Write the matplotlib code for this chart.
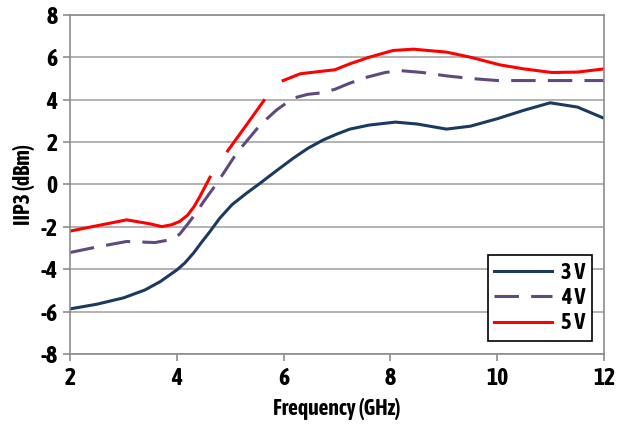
import matplotlib
matplotlib.use('Agg')
import matplotlib.pyplot as plt
import numpy as np
from matplotlib import font_manager

# want a narrow bold face; take one if any is installed
fam = 'DejaVu Sans'
for f in font_manager.fontManager.ttflist:
    if ('Narrow' in f.name or 'Condensed' in f.name) and f.weight in ('bold', 700):
        fam = f.name
        break
plt.rcParams['font.family'] = [fam, 'DejaVu Sans']
plt.rcParams['font.weight'] = 'bold'
plt.rcParams['axes.unicode_minus'] = False

# IIP3 vs frequency
freq_3v = [2.0, 2.5, 3.0, 3.4, 3.69, 4.0, 4.15, 4.31, 4.47, 4.62, 4.8, 5.03, 5.3, 5.56, 5.85,
           6.18, 6.45, 6.74, 7.0, 7.24, 7.6, 8.09, 8.5, 9.05, 9.5, 10.0, 10.5, 10.99, 11.5, 12.0]
iip3_3v = [-5.87, -5.65, -5.35, -4.98, -4.58, -4.03, -3.7, -3.24, -2.7, -2.22, -1.6, -0.96, -0.42,
           0.06, 0.62, 1.24, 1.7, 2.1, 2.38, 2.61, 2.8, 2.94, 2.85, 2.61, 2.75, 3.1, 3.5, 3.85,
           3.65, 3.12]

freq_4v = [2.0, 2.5, 3.06, 3.59, 3.87, 4.05, 4.19, 4.35, 4.5, 4.75, 5.12, 5.56, 5.87, 6.18,
           6.45, 6.74, 6.96, 7.24, 7.56, 7.9, 8.18, 8.6, 9.05, 9.5, 10.0, 10.5, 11.0, 11.5, 12.0]
iip3_4v = [-3.21, -2.95, -2.69, -2.74, -2.61, -2.35, -1.91, -1.38, -0.81, 0.06, 1.48, 2.81, 3.52,
           4.07, 4.25, 4.33, 4.49, 4.78, 5.06, 5.28, 5.37, 5.28, 5.12, 5.0, 4.9, 4.9, 4.9, 4.9,
           4.9]

freq_5v = [2.0, 2.5, 3.06, 3.5, 3.72, 3.9, 4.05, 4.2, 4.32, 4.43, 4.62, 4.78, 4.95, 5.3, 5.63,
           5.8, 5.99, 6.31, 6.68, 6.96, 7.24, 7.6, 8.05, 8.43, 9.05, 9.5, 10.05, 10.5, 11.02,
           11.5, 12.0]
iip3_5v = [-2.2, -1.95, -1.67, -1.86, -1.99, -1.9, -1.75, -1.45, -1.05, -0.57, 0.34, np.nan, 1.58,
           2.8, 3.96, np.nan, 4.9, 5.22, 5.33, 5.41, 5.69, 6.0, 6.32, 6.38, 6.24, 6.0, 5.64,
           5.45, 5.28, 5.3, 5.45]

x_ticks = [2, 4, 6, 8, 10, 12]
y_ticks = [-8, -6, -4, -2, 0, 2, 4, 6, 8]

fig = plt.figure(figsize=(6.26, 4.24), dpi=100)
ax = fig.add_axes([0.112, 0.165, 0.853, 0.8])

ax.plot(freq_3v, iip3_3v, color='#1b3a60', lw=2.2, label='3 V')
ax.plot(freq_4v, iip3_4v, color='#5f4a7e', lw=2.2, dashes=(8, 4), label='4 V')
ax.plot(freq_5v, iip3_5v, color='#ff0000', lw=2.2, label='5 V')

ax.set_xlim(2, 12)
ax.set_ylim(-8, 8)
ax.set_xticks(x_ticks)
ax.set_yticks(y_ticks)
ax.yaxis.grid(True, color='#a6a6a6', lw=1.2)
ax.set_axisbelow(True)
for s in ax.spines.values():
    s.set_color('#8c8c8c')
    s.set_linewidth(1.2)
ax.tick_params(direction='out', length=5, color='#8c8c8c', width=1.2,
               labelsize=17, pad=4)
for lab in ax.get_xticklabels() + ax.get_yticklabels():
    lab.set_fontweight('bold')

ax.set_xlabel('Frequency (GHz)', fontsize=15.5, fontweight='bold', labelpad=6)
ax.set_ylabel('IIP3 (dBm)', fontsize=15.5, fontweight='bold', labelpad=4)

leg = ax.legend(loc='lower right', bbox_to_anchor=(0.9775, 0.038), borderaxespad=0,
                fancybox=False, framealpha=1, edgecolor='black', handlelength=2.6,
                prop={'size': 16, 'weight': 'bold'}, labelspacing=0.15,
                borderpad=0.3, handletextpad=0.4)
leg.get_frame().set_linewidth(1.2)

fig.savefig('out.png', dpi=100)
